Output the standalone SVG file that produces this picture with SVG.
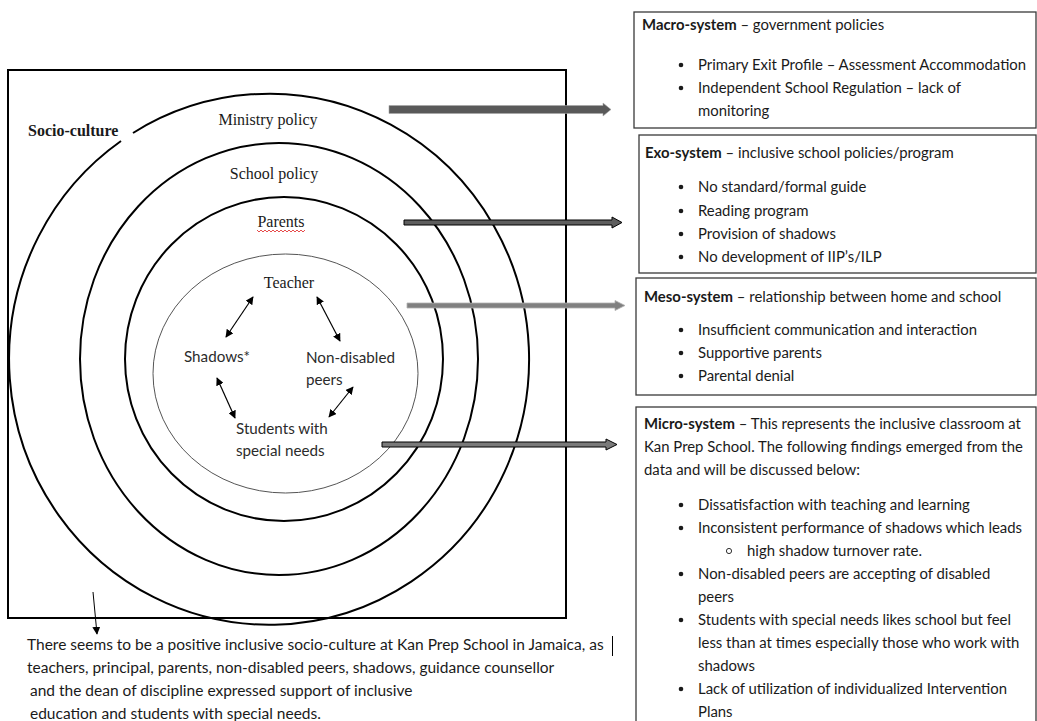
<svg xmlns="http://www.w3.org/2000/svg" width="1037" height="721" viewBox="0 0 1037 721">
<style>
  .serif{font-family:"Liberation Serif","Times New Roman",serif;font-size:16px;fill:#1a1a1a}
  .sans{font-family:Lato,"Liberation Sans",Arial,sans-serif;font-size:14.9px;fill:#1a1a1a}
  .note{font-family:Lato,"Liberation Sans",Arial,sans-serif;font-size:15.5px;fill:#1a1a1a}
  .inner{font-family:Lato,"Liberation Sans",Arial,sans-serif;font-size:15.2px;fill:#2b2b2b}
  .b{font-weight:bold}
  .ring{fill:none;stroke:#000;stroke-width:2}
  .box{fill:#fff;stroke:#3a3a3a;stroke-width:1.3}
  .dbl{stroke:#000;stroke-width:1.2;fill:none;marker-start:url(#ah);marker-end:url(#ah)}
  .dot{fill:#1a1a1a}
</style>
<defs>
  <marker id="ah" viewBox="0 0 10 10" refX="9" refY="5" markerWidth="8" markerHeight="8" markerUnits="userSpaceOnUse" orient="auto-start-reverse">
    <path d="M0,0 L10,5 L0,10 z" fill="#000"/>
  </marker>
</defs>
<rect width="1037" height="721" fill="#fff"/>

<g id="socio-culture">
  <rect x="8" y="70" width="558" height="548" fill="none" stroke="#000" stroke-width="2"/>
  <text x="28" y="136" class="serif b" font-size="14.5">Socio-culture</text>
</g>

<g id="ministry-policy">
  <path class="ring" d="M 133 133 A 260 265.5 0 1 1 121 141"/>
  <text x="268" y="125" class="serif" text-anchor="middle">Ministry policy</text>
</g>
<g id="school-policy">
  <ellipse class="ring" cx="279" cy="359" rx="199" ry="216"/>
  <text x="274" y="179" class="serif" text-anchor="middle">School policy</text>
</g>
<g id="parents">
  <ellipse class="ring" cx="284" cy="359" rx="159" ry="162"/>
  <text x="281" y="227" class="serif" text-anchor="middle">Parents</text>
  <path d="M257 230 l2 2 l2 -2 l2 2 l2 -2 l2 2 l2 -2 l2 2 l2 -2 l2 2 l2 -2 l2 2 l2 -2 l2 2 l2 -2 l2 2 l2 -2 l2 2 l2 -2 l2 2 l2 -2 l2 2 l2 -2 l2 2 l2 -2" fill="none" stroke="#e02020" stroke-width="0.8"/>
</g>
<g id="microsystem-circle">
  <ellipse cx="285.5" cy="373.5" rx="132.5" ry="119.5" fill="none" stroke="#555" stroke-width="1"/>
</g>
<g id="teacher"><text x="289" y="288" class="serif" text-anchor="middle">Teacher</text></g>
<g id="shadows"><text x="184" y="362" class="inner">Shadows*</text></g>
<g id="non-disabled-peers"><text x="306" y="363" class="inner">Non-disabled</text><text x="306" y="385" class="inner">peers</text></g>
<g id="students"><text x="236" y="434" class="inner">Students with</text><text x="236" y="456" class="inner">special needs</text></g>

<g id="connectors">
  <line class="dbl" x1="253" y1="297" x2="226" y2="337"/>
  <line class="dbl" x1="317" y1="297" x2="340" y2="341"/>
  <line class="dbl" x1="217" y1="378" x2="235" y2="418"/>
  <line class="dbl" x1="353" y1="387" x2="329" y2="417"/>
  <!-- macro arrow -->
  <polygon points="389,105.5 603,105.5 603,103 611,109.5 603,116 603,113.5 389,113.5" fill="#595959" stroke="#a6a6a6" stroke-width="0.6"/>
  <!-- exo arrow -->
  <polygon points="404,220 612,220 612,217 622,222.5 612,228 612,225 404,225" fill="#5e5e5e" stroke="#000" stroke-width="1"/>
  <!-- meso arrow -->
  <polygon points="407,303 615,303 615,300.5 625,305.5 615,310.5 615,308 407,308" fill="#808080" stroke="#b0b0b0" stroke-width="0.8"/>
  <!-- micro arrow -->
  <polygon points="382,442 606,442 606,439 617,444.5 606,450 606,447 382,447" fill="#7a7a7a" stroke="#000" stroke-width="1"/>
  <!-- socio-culture arrow -->
  <line x1="93" y1="592" x2="97" y2="634" stroke="#000" stroke-width="1" marker-end="url(#ah)"/>
</g>

<g id="macro-system">
  <rect class="box" x="634" y="12" width="402" height="116" stroke="#6a6a6a"/>
  <text x="642" y="30" class="sans"><tspan class="b">Macro-system</tspan> – government policies</text>
  <circle class="dot" cx="681" cy="65" r="2.3"/><text x="698" y="70" class="sans">Primary Exit Profile – Assessment Accommodation</text>
  <circle class="dot" cx="681" cy="88" r="2.3"/><text x="698" y="93" class="sans">Independent School Regulation – lack of</text>
  <text x="698" y="116" class="sans">monitoring</text>
</g>

<g id="exo-system">
  <rect class="box" x="639" y="135" width="397" height="138"/>
  <text x="645" y="158" class="sans"><tspan class="b">Exo-system</tspan> – inclusive school policies/program</text>
  <circle class="dot" cx="681" cy="187" r="2.3"/><text x="698" y="192" class="sans">No standard/formal guide</text>
  <circle class="dot" cx="681" cy="211" r="2.3"/><text x="698" y="216" class="sans">Reading program</text>
  <circle class="dot" cx="681" cy="234" r="2.3"/><text x="698" y="239" class="sans">Provision of shadows</text>
  <circle class="dot" cx="681" cy="257" r="2.3"/><text x="698" y="262" class="sans">No development of IIP’s/ILP</text>
</g>

<g id="meso-system">
  <rect class="box" x="636" y="278" width="400" height="117"/>
  <text x="644" y="302" class="sans"><tspan class="b">Meso-system</tspan> – relationship between home and school</text>
  <circle class="dot" cx="681" cy="330" r="2.3"/><text x="698" y="335" class="sans">Insufficient communication and interaction</text>
  <circle class="dot" cx="681" cy="353" r="2.3"/><text x="698" y="358" class="sans">Supportive parents</text>
  <circle class="dot" cx="681" cy="376" r="2.3"/><text x="698" y="381" class="sans">Parental denial</text>
</g>

<g id="micro-system">
  <rect class="box" x="636" y="407" width="400" height="330"/>
  <text x="644" y="429" class="sans"><tspan class="b">Micro-system</tspan> – This represents the inclusive classroom at</text>
  <text x="644" y="452" class="sans">Kan Prep School. The following findings emerged from the</text>
  <text x="644" y="475" class="sans">data and will be discussed below:</text>
  <circle class="dot" cx="681" cy="505" r="2.3"/><text x="698" y="510" class="sans">Dissatisfaction with teaching and learning</text>
  <circle class="dot" cx="681" cy="528" r="2.3"/><text x="698" y="533" class="sans">Inconsistent performance of shadows which leads</text>
  <circle cx="729" cy="551" r="2.6" fill="none" stroke="#1a1a1a" stroke-width="0.9"/><text x="747" y="556" class="sans">high shadow turnover rate.</text>
  <circle class="dot" cx="681" cy="574" r="2.3"/><text x="698" y="579" class="sans">Non-disabled peers are accepting of disabled</text>
  <text x="698" y="602" class="sans">peers</text>
  <circle class="dot" cx="681" cy="620" r="2.3"/><text x="698" y="625" class="sans">Students with special needs likes school but feel</text>
  <text x="698" y="648" class="sans">less than at times especially those who work with</text>
  <text x="698" y="671" class="sans">shadows</text>
  <circle class="dot" cx="681" cy="689" r="2.3"/><text x="698" y="694" class="sans">Lack of utilization of individualized Intervention</text>
  <text x="698" y="717" class="sans">Plans</text>
</g>

<g id="socio-culture-note">
  <text x="27" y="650" class="note">There seems to be a positive inclusive socio-culture at Kan Prep School in Jamaica, as</text>
  <line x1="612.5" y1="636" x2="612.5" y2="656" stroke="#000" stroke-width="1"/>
  <text x="27" y="673" class="note">teachers, principal, parents, non-disabled peers, shadows, guidance counsellor</text>
  <text x="30" y="696" class="note">and the dean of discipline expressed support of inclusive</text>
  <text x="30" y="719" class="note">education and students with special needs.</text>
</g>
</svg>
